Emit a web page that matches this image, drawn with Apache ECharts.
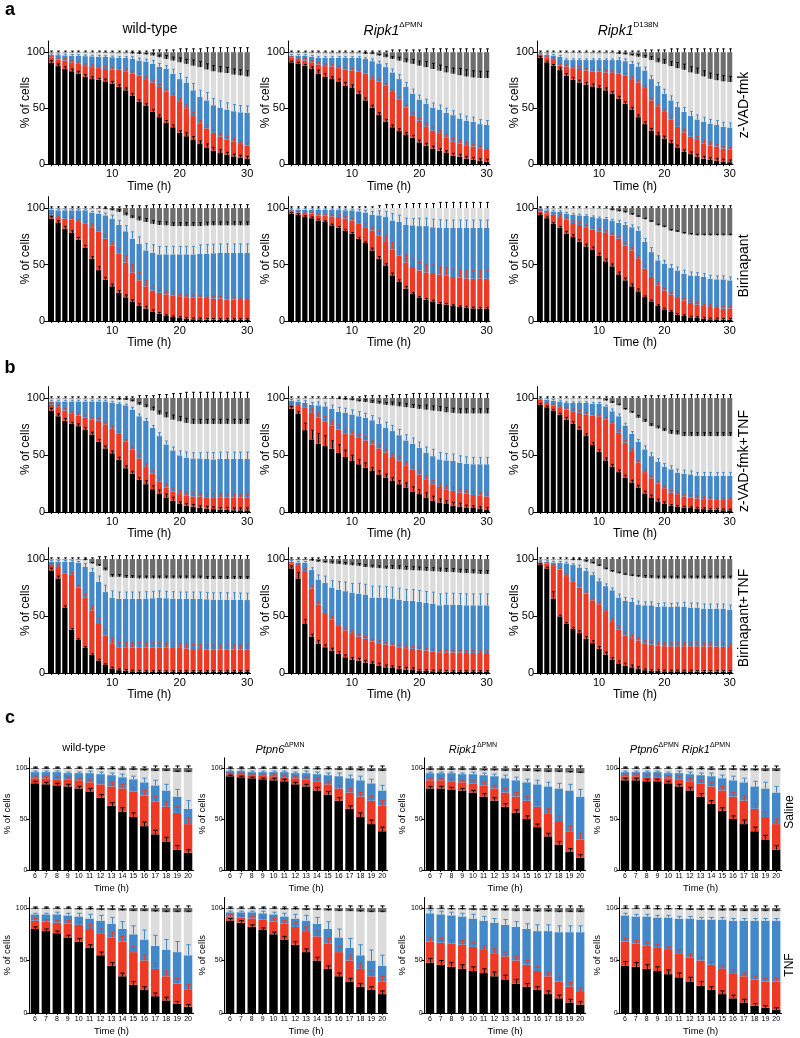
<!DOCTYPE html>
<html><head><meta charset="utf-8">
<script src="https://cdn.jsdelivr.net/npm/echarts@6/dist/echarts.min.js"></script>
<style>html,body{margin:0;padding:0;background:#fff}#c{width:800px;height:1038px}</style>
</head><body><div id="c"></div>
<script>
// ---------- categories ----------
const hoursAB = ['1','2','3','4','5','6','7','8','9','10','11','12','13','14','15','16','17','18','19','20','21','22','23','24','25','26','27','28','29','30'];
const hoursC = ['6','7','8','9','10','11','12','13','14','15','16','17','18','19','20'];
const yTicks = [0, 50, 100];

// ---------- cumulative tops: K=black, R=red, B=blue, L=light grey (dark grey fills to 100) ----------
// a, wild-type, z-VAD-fmk
const a1K=[90.5,87.6,85,83,81,78,76,75.5,74,72,69,66,61,55.6,52,47,42,37,33,28,25,21.6,18,15,12,10,8.6,7,6,5];
const a1R=[95,93.5,92.6,91,89.6,87.6,86.7,85.8,85,84.6,84.3,83,80.8,79,76,73,69,65,61,55.6,50,43,36,32,28,24.5,22,20,18,16.6];
const a1B=[97.6,97.4,97.2,97,96.8,96.5,96.3,96,95.8,95.5,95,95,94,92.6,91.7,89.6,87,85,80.8,76,72.5,66,60,57,52.7,50.6,48.8,47.3,46.4,46];
const a1L=[99.5,99.5,99.5,99.5,99.5,99.5,99.5,99.5,99.3,99.2,99,99,98.8,98.5,98,97,95.5,94,92.6,91,89.6,88,86.7,84.6,83,82,81.4,80,79.3,78.4];
const a1eK=[2,2,2,2,2,2,2,1,2,2,2,2,2,2,2,2,2,2,2,2,3,3,3,3,3,3,2,2,2,2];
const a1eR=[1,1,2,2,2,2,2,2,2,2,2,2,2,2,2,2,2,2,2,3,3,3,3,3,3,3,3,3,2,2];
const a1eB=[1,1,1,1,1,1,1,1,1,1,1,1,2,2,2,3,3,3,4,5,5,6,6,7,6,6,6,6,6,6];
const a1eL=[0,0,0,0,0,0,0,0,0,0,0,0,1,1,1,2,2,3,3,4,4,5,5,5,5,5,5,5,5,5];
const a1eT=[1,1,1,1,1,1,1,1,1,1,1,1,1,1,1,2,2,2,2,3,3,3,3,4,4,4,4,4,4,4];
// a, Ripk1 dPMN, z-VAD-fmk
const a2K=[91,90,88,85,81,78,76,74,70,68,63,57,50.6,44,38,33,29.6,26,23.7,19.5,16.6,14,12,10,7.7,6.8,5,4,3,2.4];
const a2R=[95,94,92.6,91,89,87.6,87.3,85.8,84.6,83.7,82.8,80.8,76,74,70,64.5,58,50.6,43.8,38.8,33.4,30,27,24,20,18.6,16.3,15.7,14.2,12.7];
const a2B=[97,97,97,96,95,95,95,95,95,95,95,94,92,90,86.7,82,76,69,63,57.7,54,50.6,48.8,45.9,43.8,40.8,38.8,37.9,35.8,35];
const a2L=[99.3,99.3,99.3,99.2,99.2,99.1,99,99,99,99,99,98.5,98.3,97,95.5,94,92.5,91,89.6,88,86.7,85,83.5,82,80.8,79.5,78.4,77.5,77,77];
const a2eK=[1,1,1,2,3,3,2,2,3,3,2,2,2,2,2,2,2,2,2,2,2,2,2,2,2,2,2,2,2,2];
const a2eR=[1,1,2,2,2,2,2,2,2,2,2,2,2,2,2,2,2,2,2,2,3,3,3,3,3,3,3,2,2,2];
const a2eB=[1,1,1,1,1,1,1,1,1,1,1,1,2,2,3,3,4,4,4,4,4,4,4,4,4,4,4,4,4,4];
const a2eL=[0,0,0,0,0,0,0,0,0,0,0,1,1,1,2,2,3,3,4,4,5,5,5,5,5,6,6,6,6,6];
const a2eT=[1,1,1,1,1,1,1,1,1,1,1,1,1,1,1,2,2,2,2,2,3,3,3,3,3,3,3,3,3,3];
// a, Ripk1 D138N, z-VAD-fmk
const a3K=[95,91,88,84,79,75.4,73,71,69.5,68,66,63,58.6,54,48.8,42,35.8,30,26,23,19,15,11,9,6.8,5,3.8,3,2.4,1.8];
const a3R=[98,95,93,88,87,85.8,85,83.7,82.8,82.8,82,81.6,80.8,79,76,73,68,57,51.8,46.7,40,33.4,28.4,24.5,21.6,18.6,16.6,15.7,14,13.3];
const a3B=[98.5,97.6,97,96,93,93,93,93,93,93,93,93,93,92,89.6,87.3,83.7,76,70,63,57,51,46.7,43,40,38,36,35,33.4,32.8];
const a3L=[99.5,99.5,99.5,99.5,99.3,99.3,99.2,99.2,99.1,99,99,99,98.5,98,97,96,95,93,91,89.6,87.6,85.8,84.3,82,80.8,78.4,76.3,75,74,73.4];
const a3eK=[1,1,1,2,2,2,2,2,2,2,2,2,2,2,2,2,2,2,2,2,2,2,2,2,2,2,2,2,2,2];
const a3eR=[1,1,2,2,2,2,2,2,2,2,2,2,2,2,2,2,2,2,2,2,3,3,3,3,3,3,3,2,2,2];
const a3eB=[1,1,1,1,1,1,1,1,1,1,1,1,2,2,2,3,3,3,3,4,4,4,4,4,4,4,4,4,4,4];
const a3eL=[0,0,0,0,0,0,0,0,0,0,0,0,1,1,1,2,2,3,3,4,4,5,5,5,5,5,5,5,5,5];
const a3eT=[1,1,1,1,1,1,1,1,1,1,1,1,1,1,1,1,2,2,2,2,3,3,3,3,3,3,3,3,3,3];
// a, wild-type, Birinapant
const a4K=[90.6,86.7,81.7,78,72,65,55,45,36.6,30.7,25,21,16.8,13.3,11,8,6.5,4.4,3.5,2.7,2,1.5,1.5,1.2,1.2,1,1,1,1,1];
const a4R=[94,92,90.6,89.7,87.6,86,83,79.4,72.9,67,59.6,51.6,42.8,36,30.7,27,25,23.6,22.7,22,21,21,20.7,20.4,19.8,19.8,19,19,18.6,18.6];
const a4B=[98.5,98,98,98,98,98,96,95,93.5,90.6,85,79.4,72.9,68.4,62.5,60.5,59,59,59,59,59,59,59.3,59.6,60,60.2,60.2,60.2,60.2,60.2];
const a4L=[99.5,99.5,99.5,99.5,99.5,99.5,99.5,99.3,99,98,96.5,93.5,91,89,87.6,86,85,84.7,84,84,84,84,84,84.5,84.7,84.7,84.7,84.7,84.7,84.7];
const a4eK=[2,2,2,2,2,2,2,3,2,2,2,2,2,2,2,2,1,1,1,1,1,1,1,1,1,1,1,1,1,1];
const a4eR=[1,1,1,2,2,2,3,3,3,3,4,6,7,7,5,4,3,3,3,2,2,2,2,2,2,2,2,2,2,2];
const a4eB=[1,1,1,1,1,1,1,2,2,3,4,5,6,6,6,7,7,7,7,7,7,7,8,8,8,8,8,8,8,8];
const a4eL=[0,0,0,0,0,0,0,0,1,1,2,2,2,3,3,3,3,3,3,3,3,3,3,3,3,3,3,3,3,3];
const a4eT=[1,1,1,1,1,1,1,1,1,1,1,2,2,2,2,3,3,3,3,3,3,3,3,3,3,3,3,3,3,3];
// a, Ripk1 dPMN, Birinapant
const a5K=[95,94,92,91,89,87.6,84.7,82.6,80,77.3,72.9,69,62.5,55,48.7,40.4,34.5,28.6,24,20.4,18.9,17.4,15.3,14.5,13.3,12.4,11.8,11.2,11,11];
const a5R=[97,96,95.5,95,93.5,93.5,92.6,92,90.6,89,86,83,80,75.8,69.9,63.4,58,51.6,47.8,44.8,42.8,42.5,41,40.4,39,38.3,37.5,37.5,37.5,37.5];
const a5B=[98.5,98.5,98.5,98.3,98.3,98.3,98.2,98.2,98,98,97,96,94,93.5,92,89,87.6,85,84.7,84,84,83,82.6,82.3,82.3,82.3,82.3,82.3,82.3,82.3];
const a5L=[100,100,100,100,100,100,100,100,100,100,100,100,100,100,100,100,100,100,100,100,100,100,100,100,100,100,100,100,100,100];
const a5eK=[1,1,1,1,1,1,1,1,1,1,1,1,2,2,2,2,2,2,1,1,1,1,1,1,1,1,1,1,1,1];
const a5eR=[1,1,1,1,1,1,1,2,2,2,2,3,3,4,6,6,7,7,7,7,7,7,7,7,7,7,7,7,7,7];
const a5eB=[1,1,1,1,1,1,1,1,1,1,2,2,3,4,5,6,6,6,6,7,7,7,7,7,7,7,7,7,7,7];
const a5eL=[0,0,0,0,0,0,0,0,0,0,0,0,0,0,0,0,0,0,0,0,0,0,0,0,0,0,0,0,0,0];
const a5eT=[1,1,1,1,1,1,1,1,1,1,1,1,1,2,3,3,3,4,4,4,4,4,5,5,5,5,5,5,5,5];
// a, Ripk1 D138N, Birinapant
const a6K=[94,91,86,82.6,77.3,74.3,70,66,63.4,58,52.8,48.4,41.3,36,30.7,26.3,21.2,17.4,13.3,10.3,8,5.6,4.4,3.2,2.7,2,1.5,1.5,1.2,1.2];
const a6R=[97,95,94,92,89.7,86.7,85,83,81,79.4,78,75.8,72.9,67,62.5,55,46.3,39,31.6,27,23.3,20.4,18.3,16,14.5,13.3,12.4,11.5,11,11];
const a6B=[99.4,98,97,96.5,95,94,93.5,93,92,91,90.6,89,87,85,83,80,70,61,53.7,50.7,47,44.8,41.9,40.4,39.8,39,37.5,36.9,36.9,36];
const a6L=[99.6,99.6,99.6,99.6,99.6,99.6,99.6,99.6,99.6,99.5,99.3,98,97,96,94,92,90,87.6,84.7,83,80,78.8,77.3,76.4,75.8,75.8,75.8,75.8,75.8,75.8];
const a6eK=[1,1,1,1,2,2,2,2,2,2,2,2,2,2,2,2,1,1,1,1,1,1,1,1,1,1,1,1,1,1];
const a6eR=[1,1,1,2,2,2,2,2,2,2,2,2,2,2,3,3,3,3,3,2,2,2,2,2,2,2,2,2,2,2];
const a6eB=[1,1,1,1,1,1,1,1,1,1,1,1,2,2,2,3,3,4,4,3,3,3,3,3,3,3,3,3,3,3];
const a6eL=[0,0,0,0,0,0,0,0,0,0,0,1,1,1,1,1,1,1,1,1,1,1,1,1,1,1,1,1,1,1];
const a6eT=[1,1,1,1,1,1,1,1,1,1,1,1,1,1,1,1,1,1,1,2,2,2,2,2,2,2,2,2,2,2];
// b, wild-type, z-VAD-fmk+TNF
const b1K=[89,84,80,77.6,75.3,72,68,61.6,55.8,51.5,46,38.4,33.7,28.2,24.4,20,16.3,12.8,9.9,7,5.5,4.7,3.5,3,2.5,2,2,1.5,1.5,1.5];
const b1R=[94,92,89,86,84.6,83,81,80,77,73,68.6,61.6,55,47,39.5,33.7,27,21.5,18,15.7,14.2,13.7,13.4,13,13,13,12.8,12.5,12.5,12.5];
const b1B=[97,97,97,97,97,97,97,97,97,96,94.8,93.6,89.8,84,80,73.8,66.6,59.3,54,49.7,47.7,47,47,46.5,46.2,46.5,46.5,46.5,46.5,46.5];
const b1L=[99.5,99.5,99.5,99.5,99.5,99.5,99.5,99.5,99.5,99.3,98.5,98.3,97,94,91.9,89,85.5,83,81,79.6,78.2,77.3,77.3,77.3,77.3,77.3,77.3,77.3,77.3,77.3];
const b1eK=[2,2,2,1,2,2,2,2,2,2,2,2,2,2,3,3,3,3,3,2,2,2,2,2,2,2,2,2,2,2];
const b1eR=[2,2,2,2,2,2,2,2,2,2,2,2,2,3,3,3,3,3,3,3,3,3,3,3,3,3,3,3,3,3];
const b1eB=[1,1,1,1,1,1,1,1,1,1,1,1,2,2,2,2,3,3,3,4,5,5,5,6,6,6,6,6,6,6];
const b1eL=[0,0,0,0,0,0,0,0,0,0,1,1,1,2,2,3,3,4,4,4,4,4,4,4,4,4,4,4,4,4];
const b1eT=[1,1,1,1,1,1,1,1,1,1,1,1,1,2,2,2,3,3,4,4,5,5,5,5,5,5,5,5,5,5];
// b, Ripk1 dPMN, z-VAD-fmk+TNF
const b2K=[90.7,86,71.8,63.7,59.9,57.8,55.5,52,48.3,44.8,41.9,39,36,33,30.2,27.3,24.4,21.5,18,15.7,12.8,9.9,8.4,7,5.5,4.7,4,3.5,2.6,2];
const b2R=[94,93,91.9,87,83,79.6,76,72.4,68.6,68,65,62.8,59.3,55.8,52,48.3,45.3,41,37.5,33,28.8,24.4,22,20,18.6,17,16.3,15,14.2,13.7];
const b2B=[97.7,97,95.6,94,93.6,92.7,90.7,87.8,87,85.5,84,82.6,80.5,77.3,73.8,71,67.4,62.8,59.9,56.4,52,49,46.2,45.3,44.8,43.3,42.4,41.9,41.9,41.9];
const b2L=[99.5,99.5,99.5,99.5,99.4,99.3,99.2,99,98.5,98,97,96.5,95.6,95,94,93.5,92.7,92,91.3,90.5,89.8,89,88.4,87.5,87,86.5,86.5,86.5,86.5,86.5];
const b2eK=[2,2,6,8,9,9,7,7,6,5,4,4,3,3,3,3,3,4,4,4,4,4,3,3,3,3,2,2,2,2];
const b2eR=[1,1,3,4,4,4,4,4,4,3,3,3,3,3,3,3,3,3,3,3,3,3,3,3,3,3,3,3,3,3];
const b2eB=[1,1,2,2,3,3,3,4,4,4,4,4,4,5,5,5,5,5,5,5,5,6,6,6,6,6,6,6,6,6];
const b2eL=[0,0,0,0,0,0,0,1,1,1,1,2,2,2,2,3,3,3,3,3,4,4,4,4,4,4,4,4,4,4];
const b2eT=[1,1,1,1,1,1,1,1,1,1,1,2,2,2,2,3,3,3,4,4,4,4,4,4,4,4,4,4,4,4];
// b, Ripk1 D138N, z-VAD-fmk+TNF
const b3K=[94,91.9,89,85.5,81,77.3,72.4,66.6,58.7,52.9,45.3,39.8,35,30.2,25.9,21.5,16.3,12.8,9.3,7,5.5,4.6,4,3.5,3,2.5,2,2,1.5,1.5];
const b3R=[98.5,95.6,93.6,91.3,89.8,88.4,87,85.5,84.6,84,81,77.3,69.5,60.8,53.5,43.3,35,29.6,25,20.9,17,15.7,13.4,12.8,11.9,11.3,10.8,10.5,10.5,10.5];
const b3B=[99,98.5,97.7,97,95.6,95.6,95.6,95.6,95,95,92.7,88.4,84,75.9,68.6,61.6,55,49,43.9,39.5,37.5,34.6,33.7,33,31.7,31.7,31.7,31.7,31.7,31.7];
const b3L=[99.6,99.6,99.6,99.6,99.6,99.6,99.6,99.5,99.5,99,97.7,95.6,93.6,89.8,87,82.6,79,75.3,73.3,71,68.6,68,66.6,66.6,66.6,66.6,66.6,66.6,66.6,66.6];
const b3eK=[1,1,1,1,2,2,2,2,2,2,2,2,2,2,2,2,2,2,2,2,1,1,1,1,1,1,1,1,1,1];
const b3eR=[1,1,1,1,2,2,2,2,2,2,2,2,2,2,2,2,2,2,2,2,2,2,2,2,2,2,2,2,2,2];
const b3eB=[1,1,1,1,1,1,1,1,1,1,1,2,2,2,2,2,3,3,3,3,3,3,3,3,3,3,3,3,3,3];
const b3eL=[0,0,0,0,0,0,0,0,0,0,1,1,1,1,1,2,2,2,2,2,3,3,3,3,3,3,3,3,3,3];
const b3eT=[1,1,1,1,1,1,1,1,1,1,1,1,1,1,1,1,2,2,2,2,3,3,3,3,3,3,3,3,3,3];
// b, wild-type, Birinapant+TNF
const b4K=[90,83,57,38,29,22,16,11,7,4,2.5,2,1.5,1.2,1,1,1,1,1,1,1,1,1,1,1,1,1,1,1,1];
const b4R=[94.7,93,87,86,75,66,55,43,33,25.6,22.6,22.6,22.5,22.5,22.5,22.5,22.5,22.3,22,22,21.5,21,21,20.5,20.5,20.5,20.5,20.5,20.5,20.5];
const b4B=[97.6,97.6,97.6,97.6,96.8,93,88.8,80,71,66,65,65,65,65,65.3,65.6,66,65.6,65.3,65,65,65,65,64.7,64.4,64.4,64.4,64.4,64.2,64];
const b4L=[99.5,99.5,99.5,99.5,99.5,99,96,94,90,84.4,84.4,83.5,83.3,83,83,83,83,83,83,83,83,83,83,82.5,82.5,82.5,82.5,82.5,82.5,82.5];
const b4eK=[2,2,2,1,1,1,1,1,1,1,1,1,1,1,1,1,1,1,1,1,1,1,1,1,1,1,1,1,1,1];
const b4eR=[1,2,2,2,2,3,4,5,5,5,4,4,4,4,4,4,4,4,4,4,4,4,4,4,4,4,4,4,4,4];
const b4eB=[1,1,1,1,1,3,3,5,6,6,6,6,6,6,6,6,6,6,6,6,6,6,6,6,6,6,6,6,6,6];
const b4eL=[0,0,0,0,0,1,1,1,2,2,2,2,2,2,2,2,2,2,2,2,2,2,2,2,2,2,2,2,2,2];
const b4eT=[1,1,1,1,1,1,1,2,2,3,3,3,3,3,3,3,3,3,3,3,3,3,3,3,3,3,3,3,3,3];
// b, Ripk1 dPMN, Birinapant+TNF
const b5K=[91.8,83,43,32,25.6,22.6,19.7,16.8,13.8,11.5,10.9,9.1,7.9,6.5,5,4.4,3.5,2.9,2.6,2,1.8,1.5,1.5,1.2,1,1,1,1,1,1];
const b5R=[96,94.7,89.4,74,60,52.6,46.8,41.2,37.4,35,32,30,27.6,26.2,25,24.1,22.6,21.8,21.2,20.6,19.7,18.8,18.2,18.2,18,18,17.6,17.6,17.6,17.6];
const b5B=[97.6,97,96.8,90.3,82,79,75,73.2,71.8,70.6,69.7,68.8,66.2,66.2,65.9,65.3,64.4,63.2,63.2,62.4,61.5,60.9,59.4,60,60,59.7,59.4,59.4,59.4,59.4];
const b5L=[99.2,99.2,99,98.5,97.6,96.8,96,95.6,95,94.5,94,93,92.5,92,91.5,91.2,91,90.5,90.2,90,89.6,89.3,89,88.7,88.5,88,87.7,87.4,87,86.8];
const b5eK=[2,5,4,2,3,2,2,2,2,2,2,2,2,2,2,2,2,2,2,1,1,1,1,1,1,1,1,1,1,1];
const b5eR=[1,1,2,3,3,3,3,2,2,2,2,2,2,2,2,2,2,2,2,2,2,2,2,2,2,2,2,2,2,2];
const b5eB=[1,1,1,2,4,6,6,7,8,8,9,9,10,10,10,10,10,10,10,10,10,10,10,10,10,10,10,10,10,10];
const b5eL=[0,0,0,1,1,1,2,2,2,2,2,2,2,2,2,3,3,3,3,3,3,3,3,3,3,3,3,3,3,3];
const b5eT=[1,1,1,1,1,2,2,2,3,3,3,3,3,3,3,3,3,3,3,3,3,3,3,3,3,3,3,3,3,3];
// b, Ripk1 D138N, Birinapant+TNF
const b6K=[94.7,91.8,65.3,49.7,43.2,38.8,35,30,26.2,21.2,16.2,11.5,8.5,6.5,5,3.5,2.5,2,2,1.5,1.5,1.5,1.5,1.5,1.2,1.2,1.2,1.2,1.2,1.2];
const b6R=[96.8,96.2,93.8,90.9,85,80,75,69.7,63.8,60.3,53.5,44.7,37.9,33,30.6,28.5,25.6,25,24,23.5,23.5,23.5,23.5,23.5,23.5,23.3,23.3,23.3,23,22.8];
const b6B=[97.6,97.6,97,96.8,96.2,94.7,92.6,89.7,85.9,80.6,76.2,72.6,66.2,63.2,62.4,60,59.4,59.4,58,58.5,58,58.5,58,57.4,57.4,56.5,56.5,56.5,56.5,55.6];
const b6L=[99.5,99.5,99.5,99.5,99.5,99,99,97.6,96,93.8,90.9,88.8,87.4,85.9,85,84.4,83.5,83.2,82.9,82.9,82.9,82.9,82.9,82.9,82.9,82.9,82.9,82.9,82.9,82.9];
const b6eK=[1,1,6,1,1,1,2,2,2,2,2,2,2,2,2,2,1,1,1,1,1,1,1,1,1,1,1,1,1,1];
const b6eR=[1,1,1,1,2,2,2,2,2,2,2,3,3,3,3,3,3,3,3,3,3,3,3,3,3,3,3,3,3,3];
const b6eB=[1,1,1,1,1,1,2,2,2,2,2,2,3,3,3,3,3,3,3,3,3,3,4,4,4,4,4,4,4,4];
const b6eL=[0,0,0,0,0,1,1,1,1,1,1,1,1,1,1,1,2,2,2,2,2,2,2,2,2,2,2,2,2,2];
const b6eT=[1,1,1,1,1,1,1,1,1,1,1,1,1,2,2,2,2,2,2,2,2,2,2,2,2,2,2,2,2,2];
// c, saline row
const c1K=[85,84,83,82,80,77,71,63,57,52,43,35,28,20,17];
const c1R=[90,90,89,89,88,86,84,82,80,77,73,67,62,56,45];
const c1B=[96,96,96,95,95,95,94,93,91,89,86,83,78,72,60];
const c1L=[99,99,99,99,99,99,98.5,98.5,98,98,97.5,97,97,96,96];
const c2K=[92,91,90,89,88,87,84,82,78,74,68,60,52,45,38];
const c2R=[94,94,93,93,92,91,90,89,87,84,80,76,72,68,63];
const c2B=[97,97,96,96,96,96,95,95,94,93,92,90,88,85,78];
const c2L=[99,99,99,99,99,99,99,99,98.5,98.5,98,98,97.5,97,97];
const c3K=[80,80,79,78,76,72,68,62,56,50,42,33,25,18,12];
const c3R=[88,88,87,86,85,83,80,76,72,68,62,55,48,38,30];
const c3B=[95,95,95,94,94,93,92,90,88,86,84,82,80,78,72];
const c3L=[98,98,98,98,98,97.5,97.5,97,97,97,96.5,96,96,95.5,95];
const c4K=[88,88,87,87,85,82,78,72,65,58,50,45,38,30,20];
const c4R=[92,92,91,91,90,89,87,85,82,78,72,68,60,52,45];
const c4B=[96,96,96,96,95,95,94,93,92,90,88,86,82,80,76];
const c4L=[99,99,99,99,99,99,98.5,98.5,98,98,98,97.5,97.5,97,97];
// c, TNF row
const c5K=[80,78,76,72,68,62,55,45,35,27,22,16,12,9,6];
const c5R=[88,87,86,85,84,80,76,72,68,58,50,42,35,28,22];
const c5B=[94,94,94,93,92,90,88,85,80,75,70,64,60,58,55];
const c5L=[99,99,99,99,98.5,98.5,98,98,97.5,97,97,96.5,96,96,96];
const c6K=[88,86,82,79,75,70,65,58,50,42,35,30,25,22,18];
const c6R=[92,91,90,89,87,85,82,78,73,66,58,50,42,35,30];
const c6B=[96,96,96,95,94,92,90,88,85,80,72,62,55,50,45];
const c6L=[99,99,99,99,99,98.5,98.5,98,98,97.5,97,97,96.5,96,96];
const c7K=[48,46,44,42,40,38,35,32,28,25,22,18,14,10,8];
const c7R=[68,67,66,65,63,60,57,54,50,46,40,35,30,25,20];
const c7B=[95,94,93,92,90,88,86,84,82,80,78,78,77,77,77];
const c7L=[99,99,98.5,98.5,98,98,97.5,97.5,97,97,96.5,96.5,96,96,96];
const c8K=[45,44,42,40,37,34,30,26,22,18,14,10,7,5,3];
const c8R=[68,66,64,62,60,57,53,50,46,42,38,35,32,30,30];
const c8B=[93,92,92,91,91,90,90,89,89,89,88,88,88,88,88];
const c8L=[99,99,99,98.5,98.5,98.5,98,98,98,97.5,97.5,97,97,97,97];
// c, error bars
const c1eK=[2,2,2,2,2,3,3,3,4,4,4,4,4,4,3], c1eR=[2,2,2,2,2,3,3,4,4,4,5,5,5,6,6], c1eB=[1,1,1,1,1,2,2,2,3,3,4,5,6,7,8], c1eL=[1,1,1,1,1,1,1,1,1,1,1,1,1,1,1], c1eT=[1,1,1,1,1,1,1,1,1,1,1,2,2,2,2];
const c2eK=[1,1,1,1,2,2,2,2,3,3,3,3,4,4,4], c2eR=[1,1,1,1,2,2,2,2,3,3,3,4,4,4,5], c2eB=[1,1,1,1,1,1,1,2,2,2,3,3,4,4,5], c2eL=[1,1,1,1,1,1,1,1,1,1,1,1,1,1,1], c2eT=[1,1,1,1,1,1,1,1,1,1,1,1,1,2,2];
const c3eK=[2,2,2,2,2,3,3,3,3,3,3,3,3,3,3], c3eR=[2,2,2,2,3,3,3,4,4,4,5,5,5,5,6], c3eB=[1,1,1,1,2,2,2,3,3,3,4,4,5,6,7], c3eL=[1,1,1,1,1,1,1,1,1,1,1,1,1,1,1], c3eT=[1,1,1,1,1,1,1,1,2,2,2,2,2,2,2];
const c4eK=[2,2,2,2,2,2,3,3,3,3,3,4,4,4,4], c4eR=[2,2,2,2,2,3,3,3,4,4,4,5,5,5,5], c4eB=[1,1,1,1,1,2,2,2,3,3,4,4,5,6,6], c4eL=[1,1,1,1,1,1,1,1,1,1,1,1,1,1,1], c4eT=[1,1,1,1,1,1,1,1,1,2,2,2,2,2,2];
const c5eK=[2,2,2,2,3,3,3,3,3,3,3,3,3,2,2], c5eR=[2,2,2,3,3,4,4,5,5,5,5,5,5,5,5], c5eB=[1,1,2,2,3,4,5,6,7,8,9,10,10,10,10], c5eL=[1,1,1,1,1,1,1,1,1,1,1,1,1,1,1], c5eT=[1,1,1,1,1,1,2,2,2,2,2,2,2,2,2];
const c6eK=[2,2,2,2,2,3,3,3,3,3,3,3,3,3,3], c6eR=[2,2,2,2,3,3,4,4,5,5,5,5,5,5,5], c6eB=[1,1,1,2,2,3,4,5,6,7,8,9,10,10,10], c6eL=[1,1,1,1,1,1,1,1,1,1,1,1,1,1,1], c6eT=[1,1,1,1,1,1,1,2,2,2,2,2,2,2,2];
const c7eK=[4,4,4,4,4,4,4,4,4,3,3,3,3,3,3], c7eR=[4,4,4,4,4,4,4,4,4,4,4,4,4,4,4], c7eB=[3,3,3,3,4,4,4,5,5,5,6,6,6,6,6], c7eL=[1,1,1,1,1,1,1,1,1,1,1,1,1,1,1], c7eT=[2,2,2,2,2,2,2,2,2,2,2,2,2,2,2];
const c8eK=[4,4,4,4,4,4,4,4,3,3,3,3,2,2,2], c8eR=[3,3,3,3,3,3,3,3,3,3,3,3,3,3,3], c8eB=[2,2,2,2,2,2,2,2,2,2,2,2,2,2,2], c8eL=[1,1,1,1,1,1,1,1,1,1,1,1,1,1,1], c8eT=[2,2,2,2,2,2,2,2,2,2,2,2,2,2,2];

// ---------- styling / layout ----------
const FONT = "'Liberation Sans', Arial, Helvetica, sans-serif";
const COLORS = ['#000000', '#EE3A24', '#4388C9', '#DCDCDC', '#6E6E6E'];
const ERRC = ['#000000', '#EE3A24', '#4388C9', '#000000', '#000000'];
const AB_COLS = [[48, 202.5], [288, 202], [537, 196]];
const AB_ROWS = [[41, 123.2], [196.7, 124.3], [386.6, 125.4], [547.6, 125.4]];
const C_COLS = [[29.5, 164], [224.6, 163], [424.6, 161], [619.6, 162]];
const C_ROWS = [[757.8, 112.2], [897.5, 115.5]];

const abPanels = [
  [a1K,a1R,a1B,a1L,[a1eK,a1eR,a1eB,a1eL,a1eT]], [a2K,a2R,a2B,a2L,[a2eK,a2eR,a2eB,a2eL,a2eT]], [a3K,a3R,a3B,a3L,[a3eK,a3eR,a3eB,a3eL,a3eT]],
  [a4K,a4R,a4B,a4L,[a4eK,a4eR,a4eB,a4eL,a4eT]], [a5K,a5R,a5B,a5L,[a5eK,a5eR,a5eB,a5eL,a5eT]], [a6K,a6R,a6B,a6L,[a6eK,a6eR,a6eB,a6eL,a6eT]],
  [b1K,b1R,b1B,b1L,[b1eK,b1eR,b1eB,b1eL,b1eT]], [b2K,b2R,b2B,b2L,[b2eK,b2eR,b2eB,b2eL,b2eT]], [b3K,b3R,b3B,b3L,[b3eK,b3eR,b3eB,b3eL,b3eT]],
  [b4K,b4R,b4B,b4L,[b4eK,b4eR,b4eB,b4eL,b4eT]], [b5K,b5R,b5B,b5L,[b5eK,b5eR,b5eB,b5eL,b5eT]], [b6K,b6R,b6B,b6L,[b6eK,b6eR,b6eB,b6eL,b6eT]]
];
const cPanels = [
  [c1K,c1R,c1B,c1L,[c1eK,c1eR,c1eB,c1eL,c1eT]], [c2K,c2R,c2B,c2L,[c2eK,c2eR,c2eB,c2eL,c2eT]], [c3K,c3R,c3B,c3L,[c3eK,c3eR,c3eB,c3eL,c3eT]], [c4K,c4R,c4B,c4L,[c4eK,c4eR,c4eB,c4eL,c4eT]],
  [c5K,c5R,c5B,c5L,[c5eK,c5eR,c5eB,c5eL,c5eT]], [c6K,c6R,c6B,c6L,[c6eK,c6eR,c6eB,c6eL,c6eT]], [c7K,c7R,c7B,c7L,[c7eK,c7eR,c7eB,c7eL,c7eT]], [c8K,c8R,c8B,c8L,[c8eK,c8eR,c8eB,c8eL,c8eT]]
];

function errRender(color) {
  return function (params, api) {
    const x = api.value(0), y = api.value(1), e = api.value(2);
    if (!(e > 0)) return null;
    const p0 = api.coord([x, y]), p1 = api.coord([x, y + e]);
    const hw = api.size([1, 0])[0] * 0.2;
    const cx = Math.round(p0[0]) + 0.5;
    return { type: 'group', children: [
      { type: 'line', shape: { x1: cx, y1: p0[1], x2: cx, y2: p1[1] }, style: { stroke: color, lineWidth: 1 } },
      { type: 'line', shape: { x1: cx - hw, y1: p1[1], x2: cx + hw, y2: p1[1] }, style: { stroke: color, lineWidth: 1 } }
    ]};
  };
}

const grids = [], xAxes = [], yAxes = [], series = [];
function addPanel(p, cats, left, width, top, height, small) {
  const gi = grids.length;
  const [K, R, B, L, E] = p;
  grids.push({ left, top, width, height });
  xAxes.push({
    type: 'category', gridIndex: gi, data: cats, boundaryGap: true,
    axisLine: { lineStyle: { color: '#000', width: 1 } },
    axisTick: { show: true, alignWithLabel: true, interval: 0, length: 2, lineStyle: { color: '#000' } },
    axisLabel: { interval: small ? 0 : (i) => i % 10 === 9, color: '#000', fontSize: small ? 7 : 11, margin: small ? 3 : 4, fontFamily: FONT },
    name: 'Time (h)', nameLocation: 'middle', nameGap: small ? 13 : 16, nameMoveOverlap: false,
    nameTextStyle: { color: '#000', fontSize: small ? 9.5 : 12, fontFamily: FONT }
  });
  yAxes.push({
    type: 'value', gridIndex: gi, min: 0, max: 110, interval: 50,
    axisLine: { show: true, lineStyle: { color: '#000', width: 1 } },
    axisTick: { show: true, length: small ? 3 : 4, customValues: yTicks, lineStyle: { color: '#000' } },
    axisLabel: { customValues: yTicks, color: '#000', fontSize: small ? 7 : 11, margin: small ? 2 : 3, fontFamily: FONT,
      formatter: (v) => (v <= 100 ? String(v) : '') },
    splitLine: { show: false },
    name: '% of cells', nameLocation: 'middle', nameGap: small ? 17 : 16, nameMoveOverlap: false,
    nameTextStyle: { color: '#000', fontSize: small ? 9.5 : 12, fontFamily: FONT }
  });
  const segs = [K, R.map((v, i) => v - K[i]), B.map((v, i) => v - R[i]), L.map((v, i) => v - B[i]), L.map(v => 100 - v)];
  segs.forEach((d, k) => series.push({
    type: 'bar', xAxisIndex: gi, yAxisIndex: gi, stack: 's' + gi, data: d,
    itemStyle: { color: COLORS[k] }, barCategoryGap: '22%', silent: true
  }));
  const tops = [K, R, B, L, L.map(() => 100)];
  tops.forEach((t, k) => series.push({
    type: 'custom', xAxisIndex: gi, yAxisIndex: gi, renderItem: errRender(ERRC[k]), z: 5, silent: true, clip: false,
    data: t.map((v, i) => [i, v, E[k][i]])
  }));
}

abPanels.forEach((p, n) => {
  const col = AB_COLS[n % 3], row = AB_ROWS[Math.floor(n / 3)];
  addPanel(p, hoursAB, col[0], col[1], row[0], row[1], false);
});
cPanels.forEach((p, n) => {
  const col = C_COLS[n % 4], row = C_ROWS[Math.floor(n / 4)];
  addPanel(p, hoursC, col[0], col[1], row[0], row[1], true);
});

function txt(x, y, text, size, extra) {
  return { type: 'text', x, y, style: Object.assign({ text, fill: '#000', fontSize: size, fontFamily: FONT, align: 'center', verticalAlign: 'middle' }, extra || {}) };
}
function geneTitle(x, y, parts, size) {
  let t = '';
  parts.forEach((p, i) => { t += (i ? '{sp| }' : '') + '{g|' + p[0] + '}{s|' + p[1] + '}'; });
  return { type: 'text', x, y, style: { text: t, align: 'center', verticalAlign: 'middle', fill: '#000',
    rich: { g: { fontStyle: 'italic', fontSize: size, fontFamily: FONT, lineHeight: size + 4, verticalAlign: 'bottom' },
            s: { fontSize: Math.round(size * 0.6), fontFamily: FONT, lineHeight: size + 4, verticalAlign: 'top', padding: [1, 0, 0, 0] },
            sp: { fontSize: size, fontFamily: FONT } } } };
}

const graphics = [
  txt(10, 10, 'a', 18, { fontWeight: 'bold' }),
  txt(10, 368, 'b', 18, { fontWeight: 'bold' }),
  txt(10, 718, 'c', 18, { fontWeight: 'bold' }),
  txt(150, 29, 'wild-type', 14),
  geneTitle(393, 29, [['Ripk1', 'ΔPMN']], 14),
  geneTitle(628, 29, [['Ripk1', 'D138N']], 14),
  Object.assign(txt(744, 105, 'z-VAD-fmk', 14), { rotation: Math.PI / 2 }),
  Object.assign(txt(744, 266, 'Birinapant', 14), { rotation: Math.PI / 2 }),
  Object.assign(txt(744, 461, 'z-VAD-fmk+TNF', 14), { rotation: Math.PI / 2 }),
  Object.assign(txt(744, 618, 'Birinapant+TNF', 14), { rotation: Math.PI / 2 }),
  txt(84, 748, 'wild-type', 11),
  geneTitle(280, 748, [['Ptpn6', 'ΔPMN']], 11),
  geneTitle(473, 748, [['Ripk1', 'ΔPMN']], 11),
  geneTitle(680, 748, [['Ptpn6', 'ΔPMN'], ['Ripk1', 'ΔPMN']], 11),
  Object.assign(txt(790, 812, 'Saline', 12), { rotation: Math.PI / 2 }),
  Object.assign(txt(790, 965, 'TNF', 12), { rotation: Math.PI / 2 })
];

const chart = echarts.init(document.getElementById('c'), null, { renderer: 'canvas' });
chart.setOption({
  animation: false,
  backgroundColor: '#ffffff',
  textStyle: { fontFamily: FONT },
  grid: grids, xAxis: xAxes, yAxis: yAxes, series,
  graphic: graphics
});
</script></body></html>
